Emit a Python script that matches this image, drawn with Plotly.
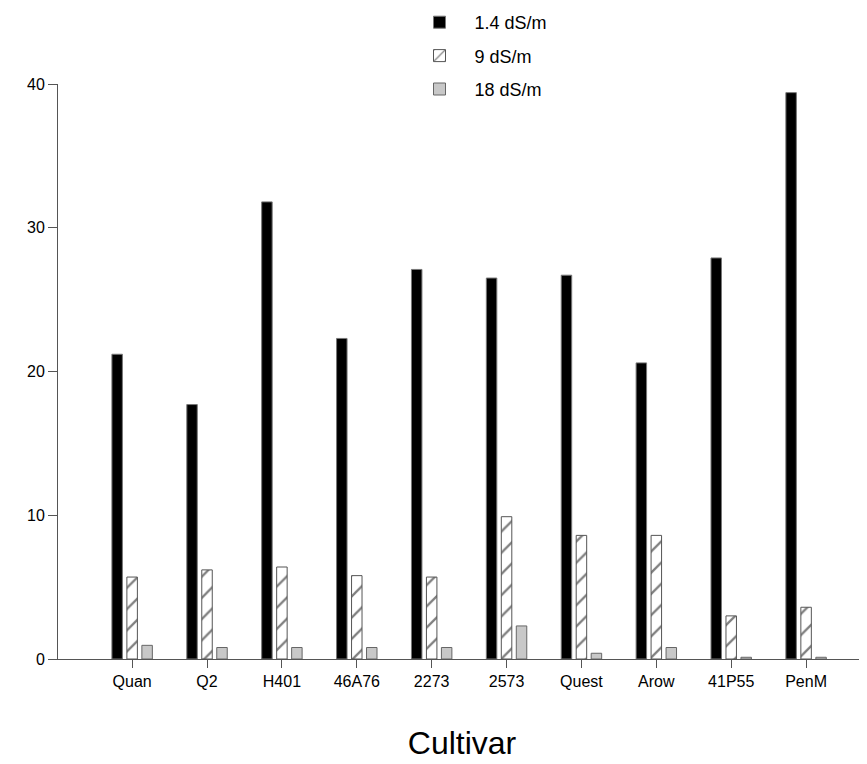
import plotly.graph_objects as go

cultivars = ["Quan", "Q2", "H401", "46A76", "2273", "2573", "Quest", "Arow", "41P55", "PenM"]
ec_low = [21.2, 17.7, 31.8, 22.3, 27.1, 26.5, 26.7, 20.6, 27.9, 39.4]
ec_mid = [5.7, 6.2, 6.4, 5.8, 5.7, 9.9, 8.6, 8.6, 3.0, 3.6]
ec_high = [0.95, 0.8, 0.8, 0.8, 0.8, 2.3, 0.4, 0.8, 0.12, 0.12]
series_names = ["1.4 dS/m", "9 dS/m", "18 dS/m"]

FONT = "Arial, Liberation Sans, sans-serif"

fig = go.Figure()
fig.add_trace(go.Bar(
    x=cultivars, y=ec_low, name=series_names[0], legendgroup="a",
    marker=dict(color="black", line=dict(color="#777777", width=1)),
))
fig.add_trace(go.Bar(
    x=cultivars, y=ec_mid, name=series_names[1], legendgroup="b",
    marker=dict(color="white", line=dict(color="#555555", width=1),
                pattern=dict(shape="/", fgcolor="black", bgcolor="white",
                             size=15, solidity=0.15)),
))
fig.add_trace(go.Bar(
    x=cultivars, y=ec_high, name=series_names[2], legendgroup="c",
    marker=dict(color="#c8c8c8", line=dict(color="#666666", width=1)),
))

fig.update_layout(
    width=859, height=756,
    margin=dict(l=50, r=1, t=76, b=105, autoexpand=False),
    paper_bgcolor="white", plot_bgcolor="white",
    barmode="group", bargap=0.4, bargroupgap=0.3,
    font=dict(family=FONT, size=16, color="black"),
    showlegend=True,
    legend=dict(x=(396.5 - 50) / 808, y=1 + 80 / 575,
                xanchor="left", yanchor="top",
                font=dict(size=18, family=FONT), tracegroupgap=7,
                traceorder="grouped",
                itemwidth=60, bgcolor="rgba(0,0,0,0)"),
    xaxis=dict(
        range=[-0.99, 9.8], showline=True, linecolor="#555555", linewidth=1,
        ticks="outside", ticklen=8, tickcolor="#555555", showgrid=False,
        zeroline=False,
        title=dict(text="Cultivar", font=dict(size=32, family=FONT), standoff=42),
        tickfont=dict(size=16, family=FONT),
    ),
    yaxis=dict(
        range=[0, 40], tickvals=[0, 10, 20, 30, 40], showline=True,
        linecolor="#555555", linewidth=1, ticks="outside", ticklen=9,
        tickcolor="#555555", showgrid=False, zeroline=False,
        tickfont=dict(size=16, family=FONT),
    ),
)

fig.write_html("out.html")
